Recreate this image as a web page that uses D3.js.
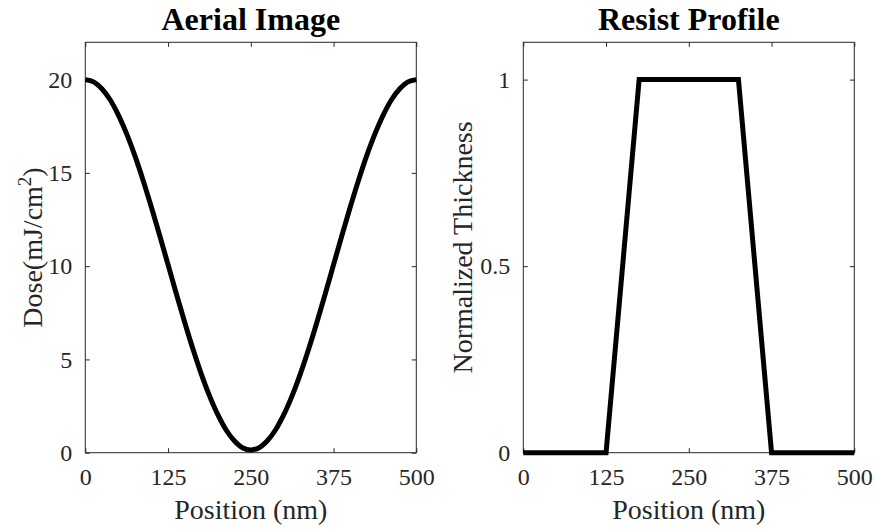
<!DOCTYPE html>
<html>
<head>
<meta charset="utf-8">
<script src="https://cdn.jsdelivr.net/npm/d3@7"></script>
<style>
  body { margin: 0; background: #fff; }
  svg { display: block; font-family: "Liberation Serif", "Times New Roman", serif; }
</style>
</head>
<body>
<div id="chart"></div>
<script>
var aerialPos = [0, 12.5, 25, 37.5, 50, 62.5, 75, 87.5, 100, 112.5, 125, 137.5, 150, 162.5, 175, 187.5, 200, 212.5, 225, 237.5,
  250, 262.5, 275, 287.5, 300, 312.5, 325, 337.5, 350, 362.5, 375, 387.5, 400, 412.5, 425, 437.5, 450, 462.5, 475, 487.5, 500];
var aerialDose = [20, 19.88, 19.51, 18.92, 18.1, 17.09, 15.91, 14.58, 13.14, 11.63, 10.08, 8.52, 7.01, 5.57, 4.24, 3.06, 2.05, 1.23, 0.64, 0.27,
  0.15, 0.27, 0.64, 1.23, 2.05, 3.06, 4.24, 5.57, 7.01, 8.52, 10.08, 11.63, 13.14, 14.58, 15.91, 17.09, 18.1, 18.92, 19.51, 19.88, 20];

// resist profile corners
var resistPos = [0, 125, 175, 325, 375, 500];
var resistThick = [0, 0, 1, 1, 0, 0];

var xTicks = [0, 125, 250, 375, 500];
var doseTicks = [0, 5, 10, 15, 20];
var thickTicks = [0, 0.5, 1];

var W = 876, H = 529;
var axisColor = "#262626";

var svg = d3.select("#chart").append("svg")
  .attr("width", W)
  .attr("height", H);

function drawPanel(opt) {
  var x = d3.scaleLinear().domain([0, 500]).range([opt.left, opt.right]);
  var y = d3.scaleLinear().domain(opt.ydomain).range([452.7, 42.3]);
  var g = svg.append("g");

  // box
  g.append("rect")
    .attr("x", x(0)).attr("y", y.range()[1])
    .attr("width", x(500) - x(0)).attr("height", y.range()[0] - y.range()[1])
    .attr("fill", "none").attr("stroke", axisColor).attr("stroke-width", 1);

  var tl = 4.5;
  // bottom axis with labels
  var bx = g.append("g").attr("transform", "translate(0," + y.range()[0] + ")")
    .call(d3.axisBottom(x).tickValues(xTicks).tickSizeInner(-tl).tickSizeOuter(0).tickPadding(15)
      .tickFormat(d3.format("d")));
  // top ticks
  var tx = g.append("g").attr("transform", "translate(0," + y.range()[1] + ")")
    .call(d3.axisTop(x).tickValues(xTicks).tickSizeInner(-tl).tickSizeOuter(0).tickFormat(""));
  // left axis
  var ly = g.append("g").attr("transform", "translate(" + x(0) + ",0)")
    .call(d3.axisLeft(y).tickValues(opt.yticks).tickSizeInner(-tl).tickSizeOuter(0).tickPadding(13)
      .tickFormat(opt.yfmt));
  // right ticks
  var ry = g.append("g").attr("transform", "translate(" + x(500) + ",0)")
    .call(d3.axisRight(y).tickValues(opt.yticks).tickSizeInner(-tl).tickSizeOuter(0).tickFormat(""));

  [bx, tx, ly, ry].forEach(function(a) {
    a.select(".domain").remove();
    a.selectAll(".tick line").attr("stroke", axisColor);
    a.selectAll(".tick text")
      .attr("fill", axisColor)
      .style("font-family", "Liberation Serif, serif")
      .style("font-size", "24px");
  });

  // line
  var line = d3.line()
    .x(function(d) { return x(d[0]); })
    .y(function(d) { return y(d[1]); })
    .curve(opt.curve);
  g.append("path")
    .datum(opt.xs.map(function(v, i) { return [v, opt.ys[i]]; }))
    .attr("d", line)
    .attr("fill", "none")
    .attr("stroke", "#000")
    .attr("stroke-width", 5)
    .attr("stroke-linejoin", "miter");

  // title
  g.append("text")
    .attr("x", (x(0) + x(500)) / 2).attr("y", 30)
    .attr("text-anchor", "middle")
    .style("font-size", "32px").style("font-weight", "bold")
    .attr("fill", "#000")
    .text(opt.title);

  // x label
  g.append("text")
    .attr("x", (x(0) + x(500)) / 2).attr("y", 519)
    .attr("text-anchor", "middle")
    .style("font-size", "28px")
    .attr("fill", axisColor)
    .text("Position (nm)");

  // y label
  var yl = g.append("text")
    .attr("transform", "translate(" + opt.ylabelX + "," + ((y.range()[0] + y.range()[1]) / 2) + ") rotate(-90)")
    .attr("text-anchor", "middle")
    .style("font-size", "28px")
    .attr("fill", axisColor);
  opt.ylabel(yl);
}

drawPanel({
  left: 85.3, right: 416.3,
  ydomain: [0, 22],
  yticks: doseTicks,
  yfmt: d3.format("d"),
  xs: aerialPos, ys: aerialDose,
  curve: d3.curveCatmullRom,
  title: "Aerial Image",
  ylabelX: 42,
  ylabel: function(t) {
    t.append("tspan").text("Dose(mJ/cm");
    t.append("tspan").attr("dy", -11).style("font-size", "19px").text("2");
    t.append("tspan").attr("dy", 11).text(")");
  }
});

drawPanel({
  left: 523.3, right: 854.3,
  ydomain: [0, 1.1],
  yticks: thickTicks,
  yfmt: function(d) { return d === 0.5 ? "0.5" : d3.format("d")(d); },
  xs: resistPos, ys: resistThick,
  curve: d3.curveLinear,
  title: "Resist Profile",
  ylabelX: 472,
  ylabel: function(t) { t.text("Normalized Thickness"); }
});
</script>
</body>
</html>
